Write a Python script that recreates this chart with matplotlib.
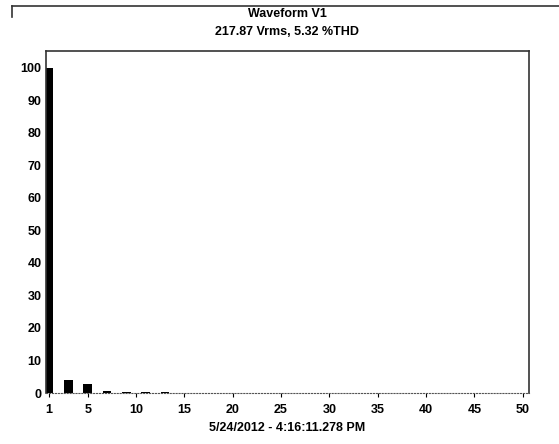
import numpy as np
import matplotlib.pyplot as plt
from matplotlib.lines import Line2D

# Harmonic spectrum (% of fundamental)
harmonics = np.arange(1, 51)
magnitude = np.full(50, 0.05)
magnitude[harmonics == 1] = 100.0
magnitude[harmonics == 3] = 4.0
magnitude[harmonics == 5] = 2.8
magnitude[harmonics == 7] = 0.7
magnitude[harmonics == 9] = 0.3
magnitude[harmonics == 11] = 0.3
magnitude[harmonics == 13] = 0.3

x_ticks = [1, 5, 10, 15, 20, 25, 30, 35, 40, 45, 50]
y_ticks = [0, 10, 20, 30, 40, 50, 60, 70, 80, 90, 100]

plt.rcParams['font.family'] = ['Liberation Sans Narrow', 'Liberation Sans', 'DejaVu Sans']
plt.rcParams['font.weight'] = 'bold'

W, H = 559, 444
fig = plt.figure(figsize=(W / 100, H / 100), dpi=100)
ax = fig.add_axes([45.7 / W, 1 - 393 / H, (528.5 - 45.7) / W, (393 - 51) / H])

ax.bar(harmonics, magnitude, width=0.9, color='black')

ax.set_xlim(0.66, 50.6)
ax.set_ylim(0, 105.2)
ax.set_xticks(x_ticks)
ax.set_yticks(y_ticks)
ax.tick_params(axis='x', labelsize=9, length=3, width=0.8, pad=5, colors='black')
ax.tick_params(axis='y', labelsize=9, length=0, pad=3, colors='black')
for lbl in ax.get_xticklabels() + ax.get_yticklabels():
    lbl.set_fontweight('bold')

for s in ['top', 'right', 'left']:
    ax.spines[s].set_color('#333333')
    ax.spines[s].set_linewidth(1.2)
ax.spines['bottom'].set_linestyle(':')
ax.spines['bottom'].set_color('#555555')

ax.set_xlabel('5/24/2012 - 4:16:11.278 PM', fontsize=9, fontweight='bold', labelpad=4)

cx = (45.7 + 528.5) / 2 / W
fig.text(cx, 1 - 14 / H, 'Waveform V1', ha='center', va='center', fontsize=9, fontweight='bold')
fig.text(cx, 1 - 32 / H, '217.87 Vrms, 5.32 %THD', ha='center', va='center', fontsize=9, fontweight='bold')

# outer frame corner
fig.add_artist(Line2D([12 / W, 1.0], [1 - 6 / H, 1 - 6 / H], color='#333333', lw=1.2))
fig.add_artist(Line2D([12 / W, 12 / W], [1 - 6 / H, 1 - 17 / H], color='#333333', lw=1.2))

fig.savefig('out.png', dpi=100)
